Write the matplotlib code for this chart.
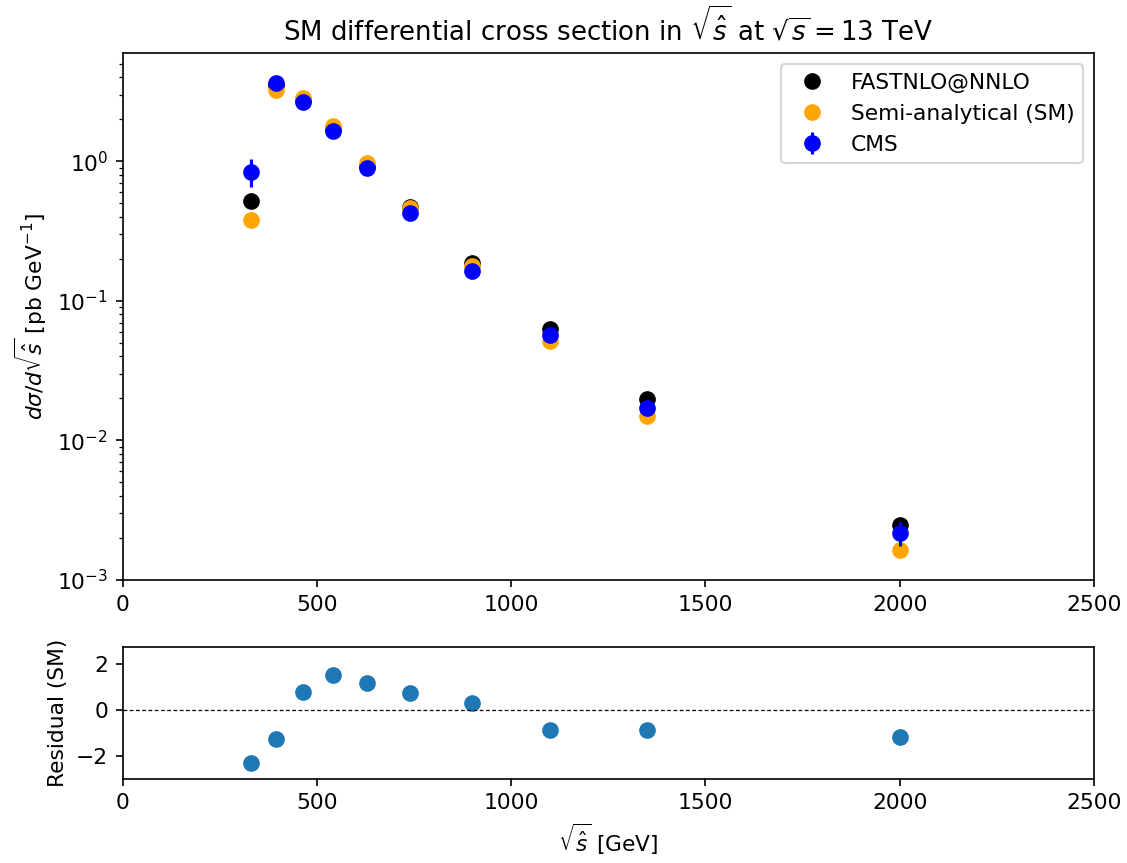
import matplotlib

matplotlib.use("Agg")
import matplotlib.pyplot as plt

# sqrt(s_hat) bin centres [GeV]
sqrt_shat = [330, 395, 465, 540, 630, 740, 900, 1100, 1350, 2000]

# d sigma / d sqrt(s_hat) [pb/GeV]
fastnlo = [0.524, 3.50, 2.76, 1.72, 0.93, 0.470, 0.188, 0.0628, 0.0199, 0.00247]
semi_sm = [0.383, 3.25, 2.87, 1.80, 0.974, 0.465, 0.178, 0.0518, 0.0151, 0.00163]
cms = [0.844, 3.67, 2.68, 1.65, 0.891, 0.428, 0.164, 0.0569, 0.0170, 0.00219]
cms_err = [0.19, 0.18, 0.13, 0.08, 0.045, 0.022, 0.009, 0.0035, 0.0012, 0.00044]

# (SM - CMS) / sigma
residual = [-2.32, -1.27, 0.80, 1.52, 1.17, 0.75, 0.32, -0.89, -0.87, -1.19]

plt.rcParams["font.size"] = 10.45

fig = plt.figure(figsize=(1127 / 150, 863 / 150), dpi=150)
ax = fig.add_axes([0.1089, 0.3279, 0.8618, 0.6103])
axr = fig.add_axes([0.1089, 0.0977, 0.8618, 0.1530])

ax.plot(sqrt_shat, fastnlo, "o", color="black", ms=7, label="FASTNLO@NNLO")
ax.plot(sqrt_shat, semi_sm, "o", color="orange", ms=7, label="Semi-analytical (SM)")
ax.errorbar(sqrt_shat, cms, yerr=cms_err, fmt="o", color="blue", ms=7, label="CMS")
ax.set_yscale("log")
ax.set_xlim(0, 2500)
ax.set_ylim(1e-3, 5.95)
ax.set_ylabel(r"$d\sigma/d\sqrt{\hat{s}}$ [pb GeV$^{-1}$]")
ax.set_title(r"SM differential cross section in $\sqrt{\hat{s}}$ at $\sqrt{s} = 13$ TeV",
             fontsize=12.5)
ax.legend(loc="upper right")

axr.plot(sqrt_shat, residual, "o", color="#1f77b4", ms=7)
axr.axhline(0, color="black", lw=0.6, ls="--", dashes=(3, 2))
axr.set_xlim(0, 2500)
axr.set_ylim(-3.0, 2.77)
axr.set_ylabel("Residual (SM)")
axr.set_xlabel(r"$\sqrt{\hat{s}}$ [GeV]")

fig.savefig("out.png", dpi=150)
